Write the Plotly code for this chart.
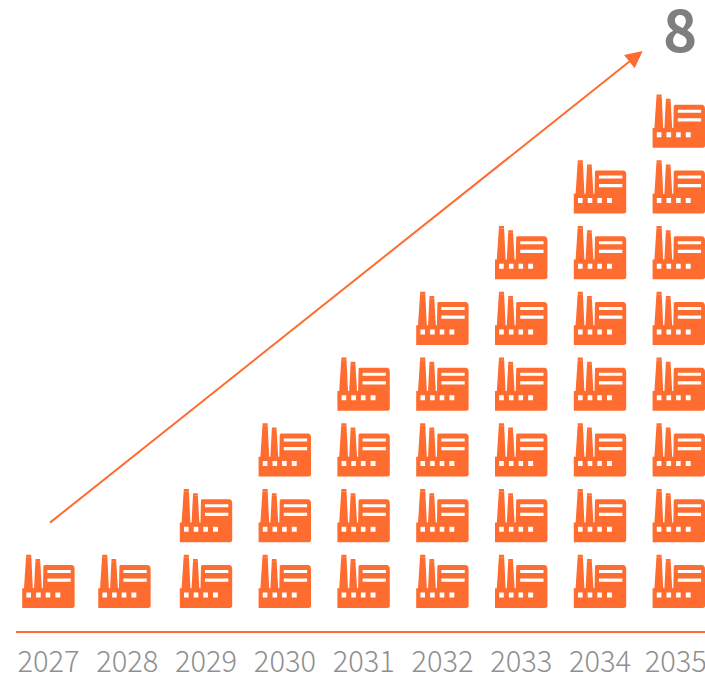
import plotly.graph_objects as go

# Factories commissioned, cumulative by year
years = [2027, 2028, 2029, 2030, 2031, 2032, 2033, 2034, 2035]
factories = [1, 1, 2, 3, 4, 5, 6, 7, 8]
total_label = "8"

ORANGE = "#FF6C2F"
GREY = "#8F8F8F"
DARK_GREY = "#7F7F7F"

W, H = 705, 676
LEFT, BOTTOM = 16, 45          # plot margins
PX_PER_YEAR = 78.8
PX_PER_ROW = 65.75
YEAR0_PX = 48.5                # page x of the first year
GAP_PX = 23                    # clearance between axis line and first icon

# Axis ranges chosen so one unit equals one column / one row of icons
x_range = [years[0] + (LEFT - YEAR0_PX) / PX_PER_YEAR, years[0] + (W - YEAR0_PX) / PX_PER_YEAR]
y_range = [0, (H - BOTTOM) / PX_PER_ROW]

# Horizontal nudges (in years) so columns and labels sit where they should
column_nudge = {2028: -0.035}
label_nudge = {2035: -0.04}

# Icon outline in pixels, origin at bottom-centre of the icon
body = [
    (-26.3, 0), (-26.3, 19.7), (-24.5, 19.7), (-22.3, 53.2), (-17.3, 53.2), (-15.7, 19.7),
    (-14.5, 19.7), (-13, 48.9), (-8.4, 48.9), (-6.7, 19.7), (-5.6, 19.7),
    (-5.6, 41), (-5.1, 42.2), (-3.8, 43), (23.5, 43), (25, 42.2), (25.8, 41),
    (26.1, 39), (26.1, 1.5), (25.3, 0.4), (24, 0), (-26.3, 0),
]
windows = [
    [(-1.1, 34.9), (22.2, 34.9), (22.2, 38.1), (-1.1, 38.1)],
    [(-1.1, 26.2), (22.2, 26.2), (22.2, 29.5), (-1.1, 29.5)],
    [(-22.1, 10.5), (-17.5, 10.5), (-17.5, 15.5), (-22.1, 15.5)],
    [(-12.4, 10.5), (-7.8, 10.5), (-7.8, 15.5), (-12.4, 15.5)],
    [(-2.8, 10.5), (1.8, 10.5), (1.8, 15.5), (-2.8, 15.5)],
    [(6.9, 10.5), (11.8, 10.5), (11.8, 15.5), (6.9, 15.5)],
]
# Pale bands just under the chimney tops
caps = [
    [(-22.4, 50.3), (-17.2, 50.3), (-17.2, 51.2), (-22.4, 51.2)],
    [(-13.1, 46.2), (-8.3, 46.2), (-8.3, 47.1), (-13.1, 47.1)],
]


def place(outline, year, row, xs, ys):
    """Append one closed outline, converted from pixels to axis units."""
    cx = year + column_nudge.get(year, 0)
    base = row + GAP_PX / PX_PER_ROW
    for px, py in list(outline) + [outline[0]]:
        xs.append(cx + px / PX_PER_YEAR)
        ys.append(base + py / PX_PER_ROW)
    xs.append(None)
    ys.append(None)


body_x, body_y, win_x, win_y, cap_x, cap_y = [], [], [], [], [], []
for year, count in zip(years, factories):
    for row in range(count):
        place(body, year, row, body_x, body_y)
        for w in windows:
            place(w, year, row, win_x, win_y)
        for c in caps:
            place(c, year, row, cap_x, cap_y)

fig = go.Figure()
fig.add_trace(go.Scatter(x=body_x, y=body_y, mode="lines", fill="toself", fillcolor=ORANGE,
                         line=dict(width=0, color=ORANGE), hoverinfo="skip", showlegend=False))
fig.add_trace(go.Scatter(x=win_x, y=win_y, mode="lines", fill="toself", fillcolor="white",
                         line=dict(width=0, color="white"), hoverinfo="skip", showlegend=False))
fig.add_trace(go.Scatter(x=cap_x, y=cap_y, mode="lines", fill="toself", fillcolor="rgba(255,255,255,0.2)",
                         line=dict(width=0, color="white"), hoverinfo="skip", showlegend=False))

# Rising trend arrow across the columns
fig.add_annotation(x=2034.54, y=8.82, ax=2027.0, ay=1.63, xref="x", yref="y", axref="x", ayref="y",
                   text="", showarrow=True, arrowhead=2, arrowsize=1.7, arrowwidth=2, arrowcolor=ORANGE)

fig.add_annotation(x=years[-1] + 0.01, y=9.19, xref="x", yref="y", text=total_label, showarrow=False,
                   font=dict(family="Noto Sans CJK SC", size=58, color=DARK_GREY, weight=700))

fig.update_layout(
    width=W, height=H,
    margin=dict(l=LEFT, r=0, t=0, b=BOTTOM, pad=0),
    paper_bgcolor="white", plot_bgcolor="white",
    showlegend=False,
    xaxis=dict(
        range=x_range, showgrid=False, zeroline=False, automargin=False,
        showline=True, linecolor=ORANGE, linewidth=2,
        tickmode="array",
        tickvals=[y + label_nudge.get(y, 0) for y in years],
        ticktext=[str(y) for y in years],
        ticks="", ticklabelstandoff=4, ticklabeloverflow="allow",
        tickfont=dict(family="Noto Sans CJK SC", size=29, color=GREY, weight=300),
    ),
    yaxis=dict(range=y_range, visible=False, automargin=False),
)

fig.write_html("out.html", config={"displayModeBar": False})
